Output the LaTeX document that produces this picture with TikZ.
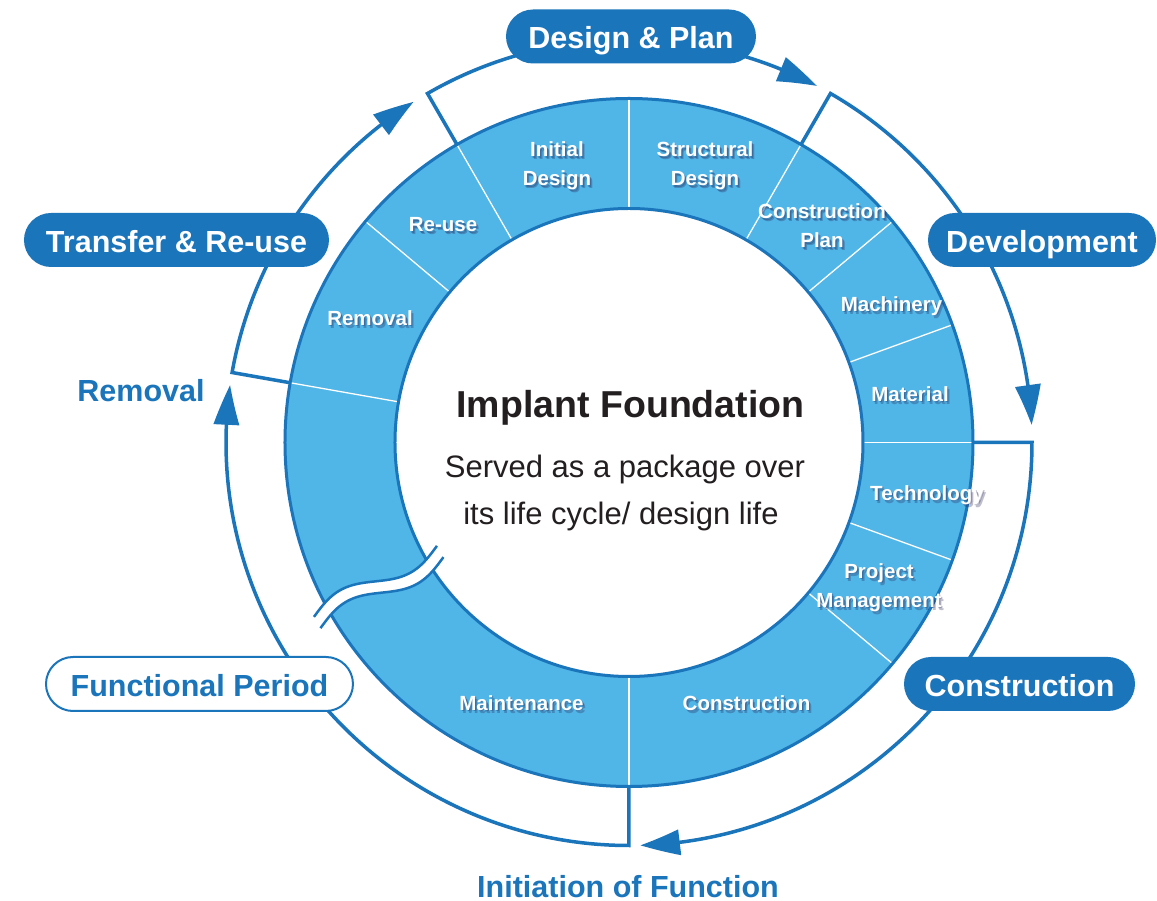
\documentclass[tikz,border=0pt]{standalone}
\usepackage{fontspec}
\setmainfont{Liberation Sans}
\usetikzlibrary{arrows.meta,bending}
\definecolor{dblue}{RGB}{27,117,187}
\definecolor{lblue}{RGB}{80,181,231}
\definecolor{ink}{RGB}{35,31,32}
\definecolor{shade}{RGB}{40,40,90}
\tikzset{
 cyc/.style={dblue, line width=3.5pt, -{Triangle[length=40pt,width=25pt,bend]}},
 pill/.style={fill=dblue, text=white, rounded corners=27pt, minimum height=54pt, inner sep=0pt, text height=26pt, text depth=1pt, font=\bfseries\fontsize{30.5}{36}\selectfont},
 pillo/.style={pill, fill=white, draw=dblue, line width=2pt, text=dblue},
 seg/.style={text=white, align=center, inner sep=0pt, font=\bfseries\fontsize{20.5}{29}\selectfont},
 segsh/.style={seg, text=shade, text opacity=0.3},
 divider/.style={white, line width=1.3pt},
 ringline/.style={dblue, line width=3pt},
 wave/.style={dblue, line width=2.5pt},
 bluetext/.style={anchor=base, inner sep=0pt, text=dblue, font=\bfseries\fontsize{30.5}{36}\selectfont},
}
\newcommand\seglabel[3]{%
 \node[segsh, xshift=2.4pt, yshift=-2.8pt] at (#1) {#3};
 \node[segsh, xshift=1.2pt, yshift=-1.5pt] at (#1) {#3};
 \node[seg] (#2) at (#1) {#3};}
\begin{document}
\begin{tikzpicture}[x=1pt,y=1pt]
\useasboundingbox (-629,-458.5) rectangle (528,442.5);
\fill[white] (-629,-458.5) rectangle (528,442.5);
% ring
\fill[lblue, even odd rule] (0,0) circle[radius=344] (0,0) circle[radius=234];
\foreach \a in {90,120,60,40,20,0,-20,-40,-90,140,170} \draw[divider] (\a:234) -- (\a:344);
\draw[ringline] (0,0) circle[radius=344];
\draw[ringline] (0,0) circle[radius=234];
% wave break
\begin{scope}[shift={(210:289)}, rotate=210]
 \fill[white] plot[domain=-71:71, samples=60, smooth, variable=\t] (\t,{-6.5-10*sin(\t*180/71)})
   -- plot[domain=71:-71, samples=60, smooth, variable=\t] (\t,{6.5-10*sin(\t*180/71)}) -- cycle;
 \draw[wave] plot[domain=-71:71, samples=60, smooth, variable=\t] (\t,{-6.5-10*sin(\t*180/71)});
 \draw[wave] plot[domain=-71:71, samples=60, smooth, variable=\t] (\t,{6.5-10*sin(\t*180/71)});
\end{scope}
% outer cycle
\coordinate (b170) at (170:344);
\coordinate (b120) at (120:344);
\coordinate (b60) at (60:344);
\coordinate (b0) at (0:344);
\coordinate (bm90) at (-90:344);
\draw[cyc] (b170) -- (170:403) arc[start angle=170, end angle=122.3, radius=403];
\draw[cyc] (b120) -- (120:403) arc[start angle=120, end angle=62.2, radius=403];
\draw[cyc] (b60) -- (60:403) arc[start angle=60, end angle=2.5, radius=403];
\draw[cyc] (b0) -- (0:403) arc[start angle=0, end angle=-88.4, radius=403];
\draw[cyc] (bm90) -- (-90:403) arc[start angle=-90, end angle=-188.2, radius=403];
% pills
\node[pill, minimum width=250pt] (design) at (2,406) {Design \& Plan};
\node[pill, minimum width=228pt] (devel) at (413,202.5) {Development};
\node[pill, minimum width=231pt] (constr) at (390.5,-241.5) {Construction};
\node[pill, minimum width=305pt] (transfer) at (-452.5,202.5) {Transfer \& Re-use};
\node[pillo, minimum width=307pt] (func) at (-429.5,-241.5) {Functional Period};
\node[bluetext] (removal) at (-488,40.5) {Removal};
\node[bluetext] (initf) at (-1,-455.5) {Initiation of Function};
% centre
\node[anchor=base, text=ink, font=\bfseries\fontsize{37.5}{44}\selectfont] (title) at (1.5,24.5) {Implant Foundation};
\node[anchor=base, text=ink, font=\fontsize{31}{36}\selectfont] (sub1) at (-4,-35.5) {Served as a package over};
\node[anchor=base, text=ink, font=\fontsize{31}{36}\selectfont] (sub2) at (-8,-82.5) {its life cycle/ design life};
% segment labels
\seglabel{-72,276.5}{sInit}{Initial\\Design}
\seglabel{76,276.5}{sStruct}{Structural\\Design}
\seglabel{193,216.5}{sCPlan}{Construction\\Plan}
\seglabel{262.5,136.5}{sMach}{Machinery}
\seglabel{281,48.5}{sMat}{Material}
\seglabel{298,-52.5}{sTech}{Technology}
\seglabel{250,-145}{sPM}{Project\\Management}
\seglabel{117.5,-260.5}{sCons}{Construction}
\seglabel{-107.5,-260.5}{sMaint}{Maintenance}
\seglabel{-259,124.5}{sRem}{Removal}
\seglabel{-186,217.5}{sReuse}{Re-use}
\end{tikzpicture}
\end{document}
